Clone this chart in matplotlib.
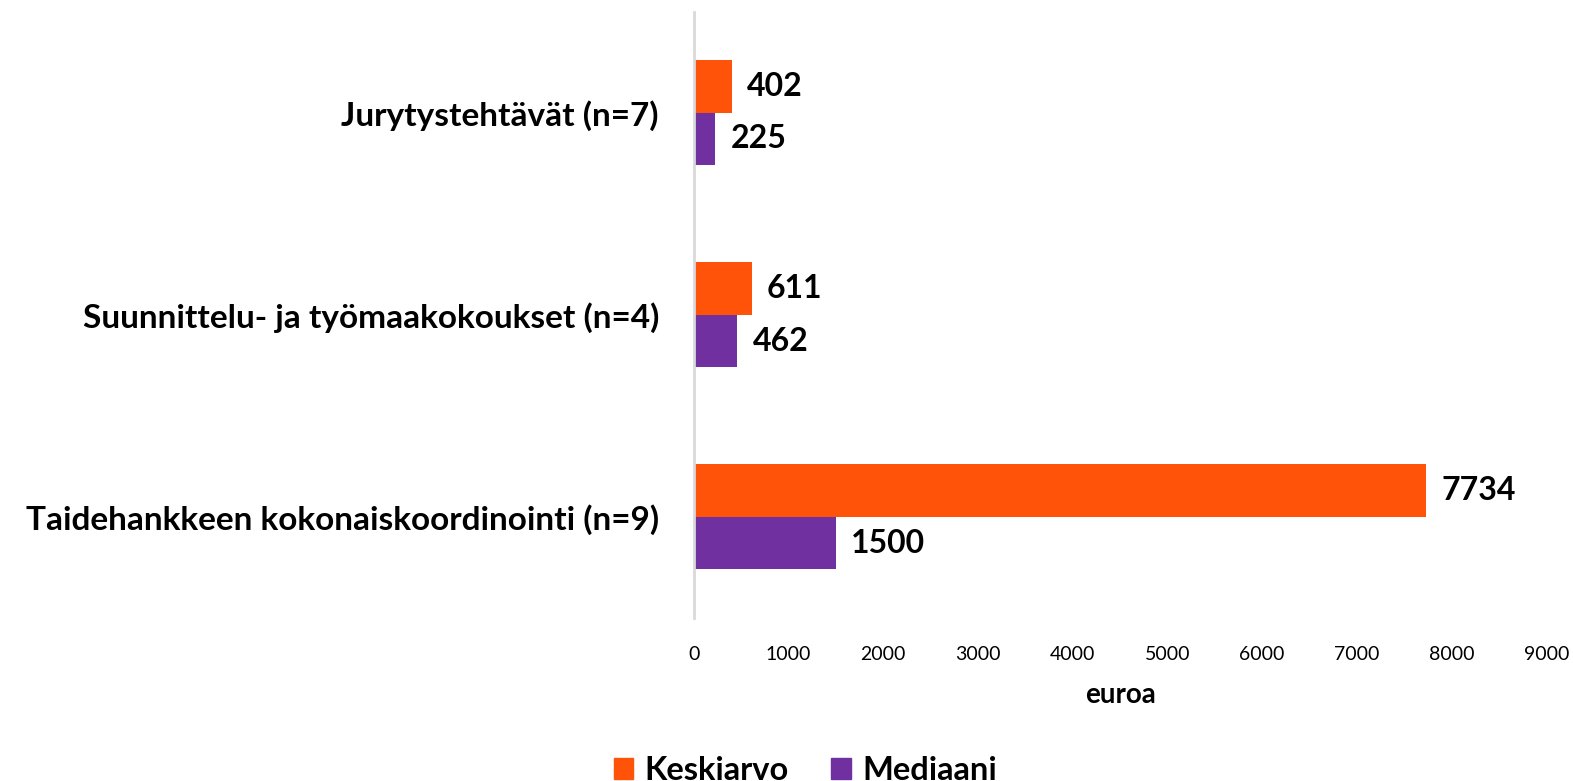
import matplotlib.pyplot as plt
from matplotlib.patches import Patch
import numpy as np

# rivit ylhäältä alas
kategoriat = ["Jurytystehtävät (n=7)",
              "Suunnittelu- ja työmaakokoukset (n=4)",
              "Taidehankkeen kokonaiskoordinointi (n=9)"]
keskiarvo = [402, 611, 7734]
mediaani = [225, 462, 1500]
sarjat = ["Keskiarvo", "Mediaani"]
xtiks = [0, 1000, 2000, 3000, 4000, 5000, 6000, 7000, 8000, 9000]

oranssi = "#FF5309"
violetti = "#7030A0"

plt.rcParams['font.family'] = ['Lato', 'DejaVu Sans']

fig = plt.figure(figsize=(15.73, 7.81), dpi=100)
ax = fig.add_axes([0.441, 0.209, 0.542, 0.776])

y = np.arange(len(kategoriat))
h = 0.26
b1 = ax.barh(y - h / 2, keskiarvo, height=h, color=oranssi)
b2 = ax.barh(y + h / 2, mediaani, height=h, color=violetti)

for bars, vals in ((b1, keskiarvo), (b2, mediaani)):
    for b, v in zip(bars, vals):
        ax.annotate(str(v), (b.get_width(), b.get_y() + b.get_height() / 2),
                    xytext=(11, 0), textcoords="offset points",
                    va="center", ha="left", fontsize=23, fontweight="bold")

ax.set_ylim(2.5, -0.5)
ax.set_xlim(0, 9000)
ax.set_yticks(y)
ax.set_yticklabels(kategoriat, fontsize=24, fontweight="bold")
ax.set_xticks(xtiks)
ax.set_xticklabels([str(t) for t in xtiks], fontsize=14)
ax.tick_params(axis="both", length=0)
ax.tick_params(axis="x", pad=20)
ax.tick_params(axis="y", pad=25)

for s in ("top", "right", "bottom"):
    ax.spines[s].set_visible(False)
ax.spines["left"].set_color("#D9D9D9")
ax.spines["left"].set_linewidth(2)

ax.set_xlabel("euroa", fontsize=20, fontweight="bold", labelpad=14)

kahvat = [Patch(color=oranssi), Patch(color=violetti)]
fig.legend(kahvat, sarjat, loc="center", bbox_to_anchor=(0.512, 0.013),
           ncol=2, frameon=False, prop={"size": 23.5, "weight": "bold"},
           handlelength=0.6, handleheight=0.6, handletextpad=0.35,
           columnspacing=1.3)

fig.savefig("out.png", dpi=100)
